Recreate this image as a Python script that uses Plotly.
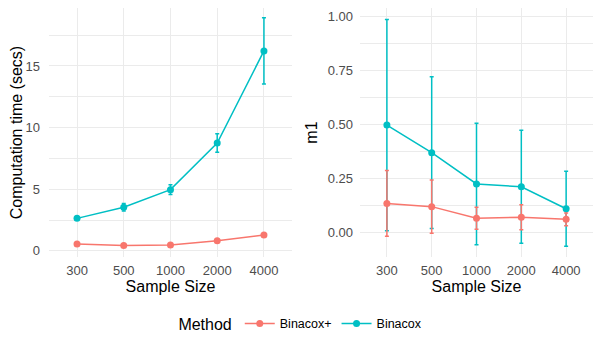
import plotly.graph_objects as go

sizes = ["300", "500", "1000", "2000", "4000"]

# computation time (secs)
time_plus = [0.57, 0.44, 0.49, 0.82, 1.30]
time_plus_err = [0.05, 0.04, 0.05, 0.06, 0.08]
time_bin = [2.64, 3.54, 4.97, 8.75, 16.22]
time_bin_err = [0.12, 0.31, 0.40, 0.75, 2.68]

# m1 metric
m1_plus = [0.134, 0.119, 0.065, 0.070, 0.060]
m1_plus_err = [0.152, 0.124, 0.051, 0.058, 0.030]
m1_bin = [0.497, 0.369, 0.224, 0.211, 0.109]
m1_bin_err = [0.490, 0.352, 0.282, 0.262, 0.174]

RED = "#F8766D"
TEAL = "#00BFC4"
FONT = "Liberation Sans"


def add_series(fig, y, err, color, name, xa, ya, show):
    fig.add_trace(go.Scatter(
        x=sizes, y=y, mode="lines+markers", name=name,
        line=dict(color=color, width=1.5),
        marker=dict(color=color, size=7),
        error_y=dict(type="data", array=err, color=color, thickness=1.5, width=2),
        xaxis=xa, yaxis=ya, showlegend=show, legendgroup=name,
        legendrank=1 if name == "Binacox+" else 2,
    ))


fig = go.Figure()
add_series(fig, time_bin, time_bin_err, TEAL, "Binacox", "x", "y", True)
add_series(fig, time_plus, time_plus_err, RED, "Binacox+", "x", "y", True)
add_series(fig, m1_bin, m1_bin_err, TEAL, "Binacox", "x2", "y2", False)
add_series(fig, m1_plus, m1_plus_err, RED, "Binacox+", "x2", "y2", False)

grid = "#EBEBEB"
tickfont = dict(family=FONT, size=13, color="#4D4D4D")
titlefont = dict(family=FONT, size=16, color="black")

xcommon = dict(type="category", range=[-0.6, 4.6], showgrid=True, gridcolor=grid,
               gridwidth=1.1, zeroline=False, showline=False, ticks="",
               tickfont=tickfont, ticklabelstandoff=4, automargin=False,
               title=dict(text="Sample Size", font=titlefont, standoff=3))

fig.update_layout(
    width=601, height=345,
    margin=dict(l=0, r=0, t=0, b=0),
    paper_bgcolor="white", plot_bgcolor="white",
    font=dict(family=FONT),
    xaxis=dict(domain=[0.0682, 0.4725], anchor="y", **xcommon),
    xaxis2=dict(domain=[0.5857, 0.9734], anchor="y2", **xcommon),
    yaxis=dict(domain=[0.278, 1.0], anchor="x", range=[-0.5, 19.7],
               tickvals=[0, 5, 10, 15], showgrid=True, gridcolor=grid, gridwidth=1.1,
               minor=dict(tick0=0, dtick=2.5, showgrid=True, gridcolor=grid, gridwidth=0.6),
               zeroline=False, ticks="", tickfont=tickfont, ticklabelstandoff=8,
               automargin=False,
               title=dict(text="Computation time (secs)", font=titlefont, standoff=7)),
    yaxis2=dict(domain=[0.278, 1.0], anchor="x2", range=[-0.115, 1.04],
                tickvals=[0, 0.25, 0.5, 0.75, 1.0], tickformat=".2f",
                showgrid=True, gridcolor=grid, gridwidth=1.1,
                minor=dict(tick0=0, dtick=0.125, showgrid=True, gridcolor=grid, gridwidth=0.6),
                zeroline=False, ticks="", tickfont=tickfont, ticklabelstandoff=6,
                automargin=False,
                title=dict(text="m1", font=titlefont, standoff=6)),
    legend=dict(orientation="h", x=0.489, xanchor="center", y=0.038, yanchor="bottom",
                title=dict(text="Method", font=dict(family=FONT, size=16, color="black")),
                font=dict(family=FONT, size=12.5, color="black"), itemwidth=30),
)

fig.write_html("out.html")
